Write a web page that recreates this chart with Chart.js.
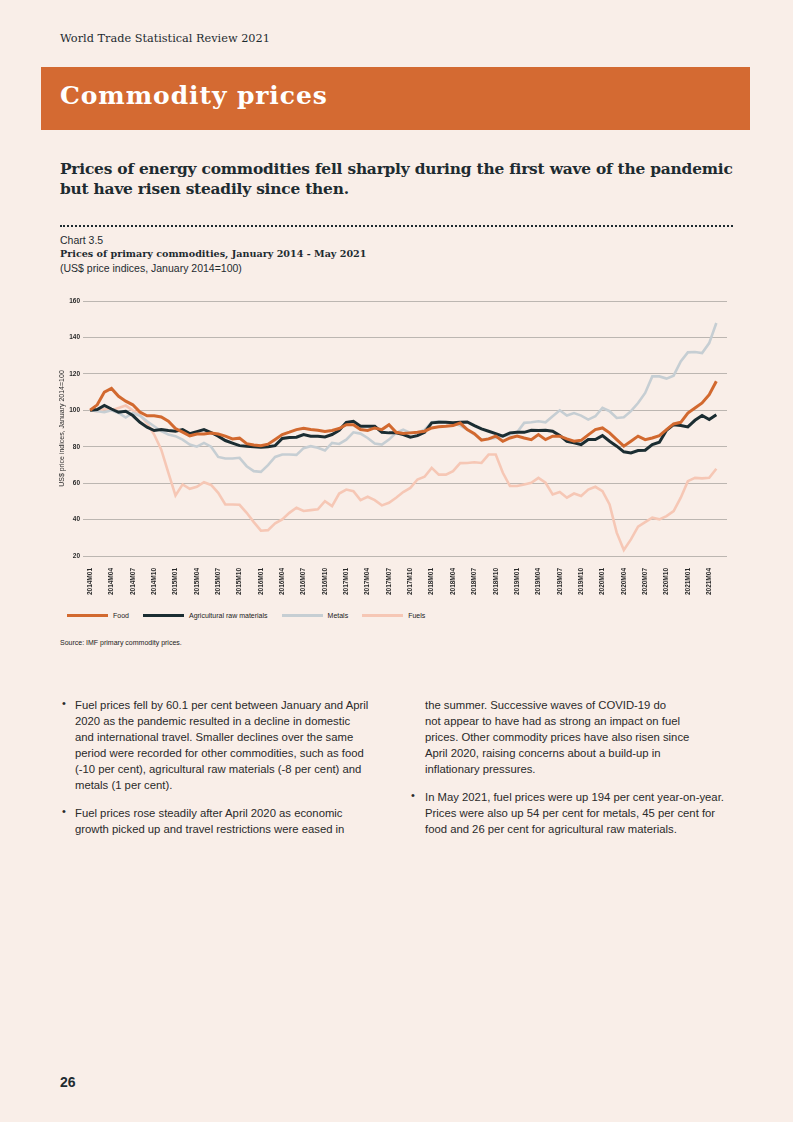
<!DOCTYPE html>
<html>
<head>
<meta charset="utf-8">
<script src="https://cdn.jsdelivr.net/npm/chart.js@4.4.1/dist/chart.umd.min.js"></script>
<style>
  html, body { margin: 0; padding: 0; }
  body { width: 793px; height: 1122px; background: #f9eee8; position: relative; overflow: hidden;
         font-family: "Liberation Sans", Arial, sans-serif; color: #1e2b30; }
  .abs { position: absolute; white-space: nowrap; }
  .slab { font-family: "DejaVu Serif", serif; }
  #band { left: 41px; top: 67px; width: 709px; height: 63px; background: #d46a32; }
  #band span { position: absolute; left: 19px; top: 14px; color: #fff; font-weight: bold; font-size: 25px; letter-spacing: 0.9px; }
  .body-text { font-size: 11.3px; line-height: 16px; color: #2a2a2a; }
  .bullet { position: absolute; font-size: 11px; color: #2a2a2a; }
  #legend { left: 67px; top: 612px; display: flex; align-items: center; font-size: 7px; color: #222; }
  #legend .item { display: flex; align-items: center; margin-right: 14px; }
  #legend .swatch { width: 41px; height: 3px; margin-right: 5px; }
</style>
</head>
<body>
<div class="abs slab" style="left:60px; top:32px; font-size:11.3px;">World Trade Statistical Review 2021</div>
<div id="band" class="abs"><span class="slab">Commodity prices</span></div>
<div class="abs slab" style="left:60px; top:159px; font-size:15.4px; font-weight:bold; line-height:20px; letter-spacing:-0.2px;">Prices of energy commodities fell sharply during the first wave of the pandemic<br>but have risen steadily since then.</div>
<div class="abs" style="left:60px; top:225px; width:673px; border-top:2px dotted #1e2b30;"></div>
<div class="abs" style="left:60px; top:234px; font-size:10.5px;">Chart 3.5</div>
<div class="abs slab" style="left:60px; top:248px; font-size:9.6px; font-weight:bold;">Prices of primary commodities, January 2014 - May 2021</div>
<div class="abs" style="left:60px; top:262px; font-size:10.5px;">(US$ price indices, January 2014=100)</div>

<div class="abs" style="left:40px; top:290px; width:700px; height:310px;">
  <canvas id="commodityChart"></canvas>
</div>
<div id="legend" class="abs"></div>
<div class="abs" style="left:60px; top:639px; font-size:7px; color:#222;">Source: IMF primary commodity prices.</div>

<div class="bullet" style="left:62px; top:697px;">•</div>
<div class="abs body-text" style="left:75px; top:697px;">Fuel prices fell by 60.1 per cent between January and April<br>2020 as the pandemic resulted in a decline in domestic<br>and international travel. Smaller declines over the same<br>period were recorded for other commodities, such as food<br>(-10 per cent), agricultural raw materials (-8 per cent) and<br>metals (1 per cent).</div>
<div class="bullet" style="left:62px; top:805px;">•</div>
<div class="abs body-text" style="left:75px; top:805px;">Fuel prices rose steadily after April 2020 as economic<br>growth picked up and travel restrictions were eased in</div>

<div class="abs body-text" style="left:425px; top:697px;">the summer. Successive waves of COVID-19 do<br>not appear to have had as strong an impact on fuel<br>prices. Other commodity prices have also risen since<br>April 2020, raising concerns about a build-up in<br>inflationary pressures.</div>
<div class="bullet" style="left:411px; top:789px;">•</div>
<div class="abs body-text" style="left:425px; top:789px;">In May 2021, fuel prices were up 194 per cent year-on-year.<br>Prices were also up 54 per cent for metals, 45 per cent for<br>food and 26 per cent for agricultural raw materials.</div>

<div class="abs" style="left:60px; top:1074px; font-size:14px; font-weight:bold;">26</div>

<script>
// Monthly indices, January 2014 - May 2021 (January 2014 = 100)
const tickLabels = ["2014M01", "2014M04", "2014M07", "2014M10", "2015M01", "2015M04", "2015M07", "2015M10",
    "2016M01", "2016M04", "2016M07", "2016M10", "2017M01", "2017M04", "2017M07", "2017M10",
    "2018M01", "2018M04", "2018M07", "2018M10", "2019M01", "2019M04", "2019M07", "2019M10",
    "2020M01", "2020M04", "2020M07", "2020M10", "2021M01", "2021M04"];

const seriesNames = ["Food", "Agricultural raw materials", "Metals", "Fuels"];
const seriesColors = ["#d2692f", "#1b2d32", "#c6ced3", "#f6c7b5"];

const food = [100, 103, 110, 112, 107.7, 105, 103, 99, 97, 97, 96.3, 94, 90, 88, 86, 87, 87, 87.5,
    87, 85.8, 84.3, 84.7, 81.7, 81, 80.5, 81.4, 84, 86.7, 88, 89.4, 90.1, 89.4, 89, 88.3, 88.9, 90,
    92.1, 92.1, 89.4, 88.9, 90.3, 89.4, 92.1, 87.9, 87.2, 87.6, 87.9, 88.5, 90.3, 90.9, 91.2, 91.6, 93,
    89.4, 87.2, 83.6, 84.3, 85.8, 83, 84.8, 85.8, 84.8, 83.9, 86.7, 83.9, 85.8, 85.8, 84.3, 83, 83.5,
    86.5, 89.4, 90.3, 87.6, 83.9, 80.3, 83, 85.8, 83.9, 84.8, 86.1, 89.4, 92.5, 93.4, 98.5, 101.3, 104, 108.6, 115.9];

const agriculture = [100, 100.4, 102.7, 100.7, 98.9, 99.5, 97.1, 93.4, 90.7, 88.9, 89.4, 88.9, 88.5, 89.4, 87.2, 88.3, 89.4, 87.8,
    85.8, 83.4, 82, 80.6, 80.3, 80, 79.7, 80, 80.6, 84.5, 85, 85.2, 86.7, 85.8, 85.8, 85.4, 86.7, 89,
    93.4, 94, 91.2, 91.2, 91.2, 87.9, 87.6, 87.6, 86.7, 85.2, 86.1, 87.9, 93.1, 93.4, 93.4, 93.1, 93.4,
    93.6, 91.6, 89.8, 88.5, 87.2, 85.8, 87.6, 87.9, 87.9, 89, 88.9, 89, 88.5, 86.1, 83, 82.1, 81.2,
    84, 83.9, 86.1, 83, 80.3, 77.2, 76.6, 77.9, 78.1, 81.2, 82.5, 89, 92.1, 91.6, 90.9, 94.5, 97.1, 94.9, 97.6];

const metals = [100, 99.5, 98.9, 100, 98.5, 96, 98.5, 97, 94, 91.2, 88.5, 86.7, 85.8, 83.9, 81.2, 80, 82.1, 80,
    74.4, 73.5, 73.5, 73.9, 69.3, 66.6, 66.2, 69.9, 74.4, 75.7, 75.7, 75.5, 79.2, 80.3, 79.4, 77.9, 82.1, 81.5,
    83.9, 87.9, 87.2, 84.8, 81.7, 81.2, 83.9, 87.6, 89.4, 87.6, 87.6, 89.4, 93.4, 94, 93.4, 92.7, 91.6,
    89.4, 86.7, 83.9, 84.3, 84.8, 85.8, 86.7, 87.9, 93.1, 93.4, 94, 93.4, 96.7, 100, 97.1, 98.5, 97.1,
    94.9, 96.7, 101.3, 99.5, 95.8, 96.2, 99.5, 104, 109.5, 118.6, 118.6, 117.4, 119, 126.8, 131.8, 132, 131.4, 136.9, 147.9];

const fuels = [100, 99.5, 100.7, 100, 101.3, 102.6, 100, 97.6, 93, 86.7, 78.4, 65.7, 53.2, 59.3, 56.9, 58, 60.5, 59,
    54.7, 48.3, 48.3, 48.1, 43.7, 38.6, 33.9, 34.2, 37.9, 40.1, 43.7, 46.5, 44.7, 45.2, 45.6, 50.1, 47.4, 54.3,
    56.5, 55.6, 50.7, 52.5, 50.7, 47.8, 49.2, 52, 55.1, 57.4, 62, 63.5, 68.4, 64.7, 64.7, 66.6, 71,
    71.1, 71.5, 71.1, 75.7, 75.7, 65.7, 58.4, 58.4, 59.3, 60.2, 62.9, 60.2, 53.8, 55.1, 52, 54.3, 52.9,
    56.5, 58, 55.6, 48.3, 32.8, 23.3, 29.1, 36.1, 38.6, 41, 40.1, 41.9, 44.7, 52, 61.1, 62.9, 62.6, 62.9, 67.9];

const allSeries = [food, agriculture, metals, fuels];
const lineWidths = [3, 3, 2.6, 2.6];

// month index -> point
const toPoints = (values) => values.map((v, i) => ({ x: i, y: v }));

const tickFont = { family: "Liberation Sans", size: 6.5, weight: 'bold' };

const initCommodityChart = () => {
    const ctx = document.getElementById('commodityChart').getContext('2d');
    new Chart(ctx, {
        type: 'line',
        data: {
            datasets: allSeries.map((values, k) => ({
                label: seriesNames[k],
                data: toPoints(values),
                borderColor: seriesColors[k],
                backgroundColor: seriesColors[k],
                borderWidth: lineWidths[k],
                pointRadius: 0,
                tension: 0,
                fill: false
            }))
        },
        options: {
            responsive: true,
            maintainAspectRatio: false,
            animation: false,
            layout: { padding: { top: 11, right: 13, left: 0, bottom: 0 } },
            plugins: { legend: { display: false }, tooltip: { enabled: false } },
            scales: {
                x: {
                    type: 'linear',
                    min: -1,
                    max: 89.5,
                    grid: { display: false },
                    border: { display: false },
                    afterBuildTicks: (axis) => {
                        axis.ticks = tickLabels.map((t, k) => ({ value: k * 3 }));
                    },
                    ticks: {
                        autoSkip: false,
                        minRotation: 90,
                        maxRotation: 90,
                        padding: 4,
                        color: '#2a2a2a',
                        font: tickFont,
                        callback: (value) => tickLabels[value / 3]
                    },
                    afterFit: (s) => { s.height = 44; }
                },
                y: {
                    min: 20,
                    max: 160,
                    grid: { color: '#bcb6b1', lineWidth: 1, drawTicks: false },
                    border: { display: false },
                    ticks: { stepSize: 20, padding: 3, color: '#2a2a2a', font: tickFont },
                    title: {
                        display: true,
                        text: 'US$ price indices, January 2014=100',
                        color: '#2a2a2a',
                        font: { family: "Liberation Sans", size: 7 },
                        padding: { top: 18, bottom: 0 }
                    },
                    afterFit: (s) => { s.width = 43; }
                }
            }
        }
    });

    // legend built from the same names and colours
    const legend = document.getElementById('legend');
    seriesNames.forEach((name, k) => {
        const item = document.createElement('div');
        item.className = 'item';
        item.innerHTML = '<div class="swatch" style="background:' + seriesColors[k] + '"></div><span>' + name + '</span>';
        legend.appendChild(item);
    });
};

document.addEventListener('DOMContentLoaded', initCommodityChart);
</script>
</body>
</html>
